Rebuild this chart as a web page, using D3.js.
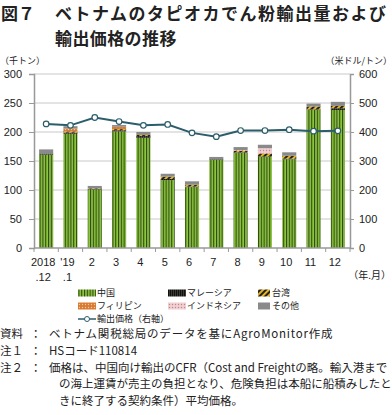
<!DOCTYPE html>
<html>
<head>
<meta charset="utf-8">
<script src="https://cdn.jsdelivr.net/npm/d3@7"></script>
<style>
  body { margin: 0; background: #fff; }
  svg { display: block; }
  text { font-family: "Noto Sans CJK JP", sans-serif; fill: #222; }
  .num { font-family: "Liberation Sans", Arial, sans-serif; }
</style>
</head>
<body>
<script>
// data
var months = ["2018\n.12", "'19\n.1", "2", "3", "4", "5", "6", "7", "8", "9", "10", "11", "12"];
var china =       [161, 197, 101, 201, 190, 117, 105, 152, 164, 157, 153, 238, 238];
var malaysia =    [2, 2, 1, 2, 3, 2, 1, 1, 1, 1, 1, 1, 3];
var taiwan =      [0, 2, 1, 2, 2, 4, 3, 0, 3, 5, 5, 5, 4];
var philippines = [0, 5, 0, 4, 0, 0, 0, 0, 0, 0, 0, 0, 0];
var indonesia =   [0, 0, 0, 0, 0, 0, 0, 0, 1, 9, 0, 0, 0];
var others =      [7, 4, 4, 3, 5, 5, 6, 4, 5, 6, 6, 5, 7];
var price =       [428, 423, 450, 436, 423, 426, 397, 384, 405, 405, 408, 403, 404];

var seriesNames = ["中国", "マレーシア", "台湾", "フィリピン", "インドネシア", "その他"];
var seriesKeys = ["china", "malaysia", "taiwan", "philippines", "indonesia", "others"];
var leftTicks = [0, 50, 100, 150, 200, 250, 300];
var rightTicks = [0, 100, 200, 300, 400, 500, 600];

var svgWidth = 392;
var svgHeight = 415;

var margin = { top: 74, right: 42, bottom: 167, left: 34 };
var width = svgWidth - margin.left - margin.right;
var height = svgHeight - margin.top - margin.bottom;

var svg = d3.select("body").append("svg")
  .attr("width", svgWidth)
  .attr("height", svgHeight);

// patterns
var defs = svg.append("defs");

function stripes(id, bg, fg, w, lw) {
  var p = defs.append("pattern").attr("id", id)
    .attr("patternUnits", "userSpaceOnUse").attr("width", w).attr("height", 4);
  p.append("rect").attr("width", w).attr("height", 4).attr("fill", bg);
  p.append("rect").attr("width", lw).attr("height", 4).attr("fill", fg);
}
stripes("p-china", "#8dc63f", "#2f4a14", 2.8, 1.1);
stripes("p-malaysia", "#3a3a30", "#111", 2, 1);

var pt = defs.append("pattern").attr("id", "p-taiwan")
  .attr("patternUnits", "userSpaceOnUse").attr("width", 4).attr("height", 4)
  .attr("patternTransform", "rotate(45)");
pt.append("rect").attr("width", 4).attr("height", 4).attr("fill", "#e6b422");
pt.append("rect").attr("width", 2).attr("height", 4).attr("fill", "#222");

function dots(id, bg, fg) {
  var p = defs.append("pattern").attr("id", id)
    .attr("patternUnits", "userSpaceOnUse").attr("width", 3).attr("height", 3);
  p.append("rect").attr("width", 3).attr("height", 3).attr("fill", bg);
  p.append("circle").attr("cx", 1.5).attr("cy", 1.5).attr("r", 0.7).attr("fill", fg);
}
dots("p-philippines", "#d97a2e", "#f4c9a0");
dots("p-indonesia", "#f3cfd2", "#b88a90");

var fills = {
  china: "url(#p-china)",
  malaysia: "url(#p-malaysia)",
  taiwan: "url(#p-taiwan)",
  philippines: "url(#p-philippines)",
  indonesia: "url(#p-indonesia)",
  others: "#8a8a8a"
};

var rows = months.map(function (m, i) {
  return {
    month: m,
    china: china[i], malaysia: malaysia[i], taiwan: taiwan[i],
    philippines: philippines[i], indonesia: indonesia[i], others: others[i],
    price: price[i]
  };
});

var chartGroup = svg.append("g")
  .attr("transform", `translate(${margin.left}, ${margin.top})`);

var x = d3.scaleBand().domain(months).range([0, width]).paddingInner(0.42).paddingOuter(0.21);
var yLeft = d3.scaleLinear().domain([0, 300]).range([height, 0]);
var yRight = d3.scaleLinear().domain([0, 600]).range([height, 0]);

// grid
chartGroup.append("g").selectAll("line")
  .data(leftTicks.slice(1))
  .enter().append("line")
  .attr("x1", 0).attr("x2", width)
  .attr("y1", d => yLeft(d)).attr("y2", d => yLeft(d))
  .attr("stroke", "#c8c8c8").attr("stroke-width", 1);

// stacked bars
var stack = d3.stack().keys(seriesKeys)(rows);
chartGroup.append("g").selectAll("g")
  .data(stack)
  .enter().append("g")
  .attr("fill", d => fills[d.key])
  .selectAll("rect")
  .data(d => d)
  .enter().append("rect")
  .attr("x", d => x(d.data.month))
  .attr("width", x.bandwidth())
  .attr("y", d => yLeft(d[1]))
  .attr("height", d => yLeft(d[0]) - yLeft(d[1]));

// axes
var axisColor = "#999";
var leftAxis = chartGroup.append("g")
  .call(d3.axisLeft(yLeft).tickValues(leftTicks).tickSize(5).tickPadding(7));
var rightAxis = chartGroup.append("g")
  .attr("transform", `translate(${width}, 0)`)
  .call(d3.axisRight(yRight).tickValues(rightTicks).tickSize(4).tickPadding(5));
[leftAxis, rightAxis].forEach(function (a) {
  a.select(".domain").attr("stroke", axisColor).attr("stroke-width", 1.5);
  a.selectAll(".tick line").attr("stroke", axisColor);
  a.selectAll(".tick text").attr("class", "num").style("font-size", "11px").attr("fill", "#222");
});

// bottom axis with ticks between bands
var xAxisG = chartGroup.append("g").attr("transform", `translate(0, ${height})`);
xAxisG.append("line").attr("x1", 0).attr("x2", width).attr("stroke", axisColor).attr("stroke-width", 1.5);
var step = x.step();
var firstEdge = x(months[0]) - step * x.paddingInner() / 2;
xAxisG.selectAll(".sep")
  .data(d3.range(months.length + 1))
  .enter().append("line")
  .attr("x1", d => firstEdge + d * step)
  .attr("x2", d => firstEdge + d * step)
  .attr("y1", 0).attr("y2", 4)
  .attr("stroke", axisColor);
xAxisG.selectAll(".lbl")
  .data(months)
  .enter().append("text")
  .attr("class", "num")
  .attr("text-anchor", "middle")
  .style("font-size", "11px")
  .each(function (d) {
    var parts = d.split("\n");
    var t = d3.select(this);
    parts.forEach(function (p, j) {
      t.append("tspan").attr("x", x(d) + x.bandwidth() / 2 - 3).attr("y", 18 + j * 15).text(p);
    });
  });

// price line
var line = d3.line().x(d => x(d.month) + x.bandwidth() / 2).y(d => yRight(d.price));
chartGroup.append("path")
  .datum(rows)
  .attr("fill", "none")
  .attr("stroke", "#2b5d6b")
  .attr("stroke-width", 2)
  .attr("d", line);
chartGroup.selectAll(".pt")
  .data(rows)
  .enter().append("circle")
  .attr("cx", d => x(d.month) + x.bandwidth() / 2)
  .attr("cy", d => yRight(d.price))
  .attr("r", 2.8)
  .attr("fill", "#fff")
  .attr("stroke", "#2b5d6b")
  .attr("stroke-width", 1.2);

// axis unit labels
svg.append("text").attr("x", 0).attr("y", 64).style("font-size", "9px").text("（千トン）");
svg.append("text").attr("x", 392).attr("y", 64).attr("text-anchor", "end").style("font-size", "9px").text("（米ドル/トン）");
svg.append("text").attr("x", 391).attr("y", 279).attr("text-anchor", "end").style("font-size", "10px").text("（年.月）");

// title
svg.append("text").attr("x", 1).attr("y", 20)
  .style("font-size", "17px").style("font-weight", "bold")
  .text("図７");
svg.append("text").attr("x", 55).attr("y", 20)
  .style("font-size", "17px").style("font-weight", "bold").style("letter-spacing", "1.5px")
  .text("ベトナムのタピオカでん粉輸出量および");
svg.append("text").attr("x", 55).attr("y", 45)
  .style("font-size", "17px").style("font-weight", "bold").style("letter-spacing", "0.4px")
  .text("輸出価格の推移");

// legend
var legendX = [78, 168, 258];
var legendY = [293, 306, 319];
var legend = svg.append("g");
seriesKeys.forEach(function (k, i) {
  var cx = legendX[i % 3], cy = legendY[Math.floor(i / 3)];
  legend.append("rect").attr("x", cx).attr("y", cy - 3.5).attr("width", i % 3 === 2 ? 12 : 18).attr("height", 7).attr("fill", fills[k]);
  legend.append("text").attr("x", cx + (i % 3 === 2 ? 14 : 19)).attr("y", cy + 3.3).style("font-size", "9px").text(seriesNames[i]);
});
legend.append("line").attr("x1", 78).attr("x2", 96).attr("y1", legendY[2]).attr("y2", legendY[2]).attr("stroke", "#2b5d6b").attr("stroke-width", 1.5);
legend.append("circle").attr("cx", 87).attr("cy", legendY[2]).attr("r", 2.5).attr("fill", "#fff").attr("stroke", "#2b5d6b");
legend.append("text").attr("x", 97).attr("y", legendY[2] + 3.3).style("font-size", "9px").text("輸出価格（右軸）");

// notes
var notes = svg.append("g").style("font-size", "11.5px");
function note(prefix, body, y, ls) {
  notes.append("text").attr("x", 0).attr("y", y).text(prefix);
  notes.append("text").attr("x", 30).attr("y", y).text("：");
  notes.append("text").attr("x", 49).attr("y", y).style("letter-spacing", ls + "px").text(body);
}
note("資料", "ベトナム関税総局のデータを基にAgroMonitor作成", 338, 0.8);
note("注１", "HSコード110814", 355, 0);
note("注２", "価格は、中国向け輸出のCFR（Cost and Freightの略。輸入港まで", 371.5, 0);
notes.append("text").attr("x", 59).attr("y", 388).text("の海上運賃が売主の負担となり、危険負担は本船に船積みしたと");
notes.append("text").attr("x", 59).attr("y", 404.5).text("きに終了する契約条件）平均価格。");
</script>
</body>
</html>
